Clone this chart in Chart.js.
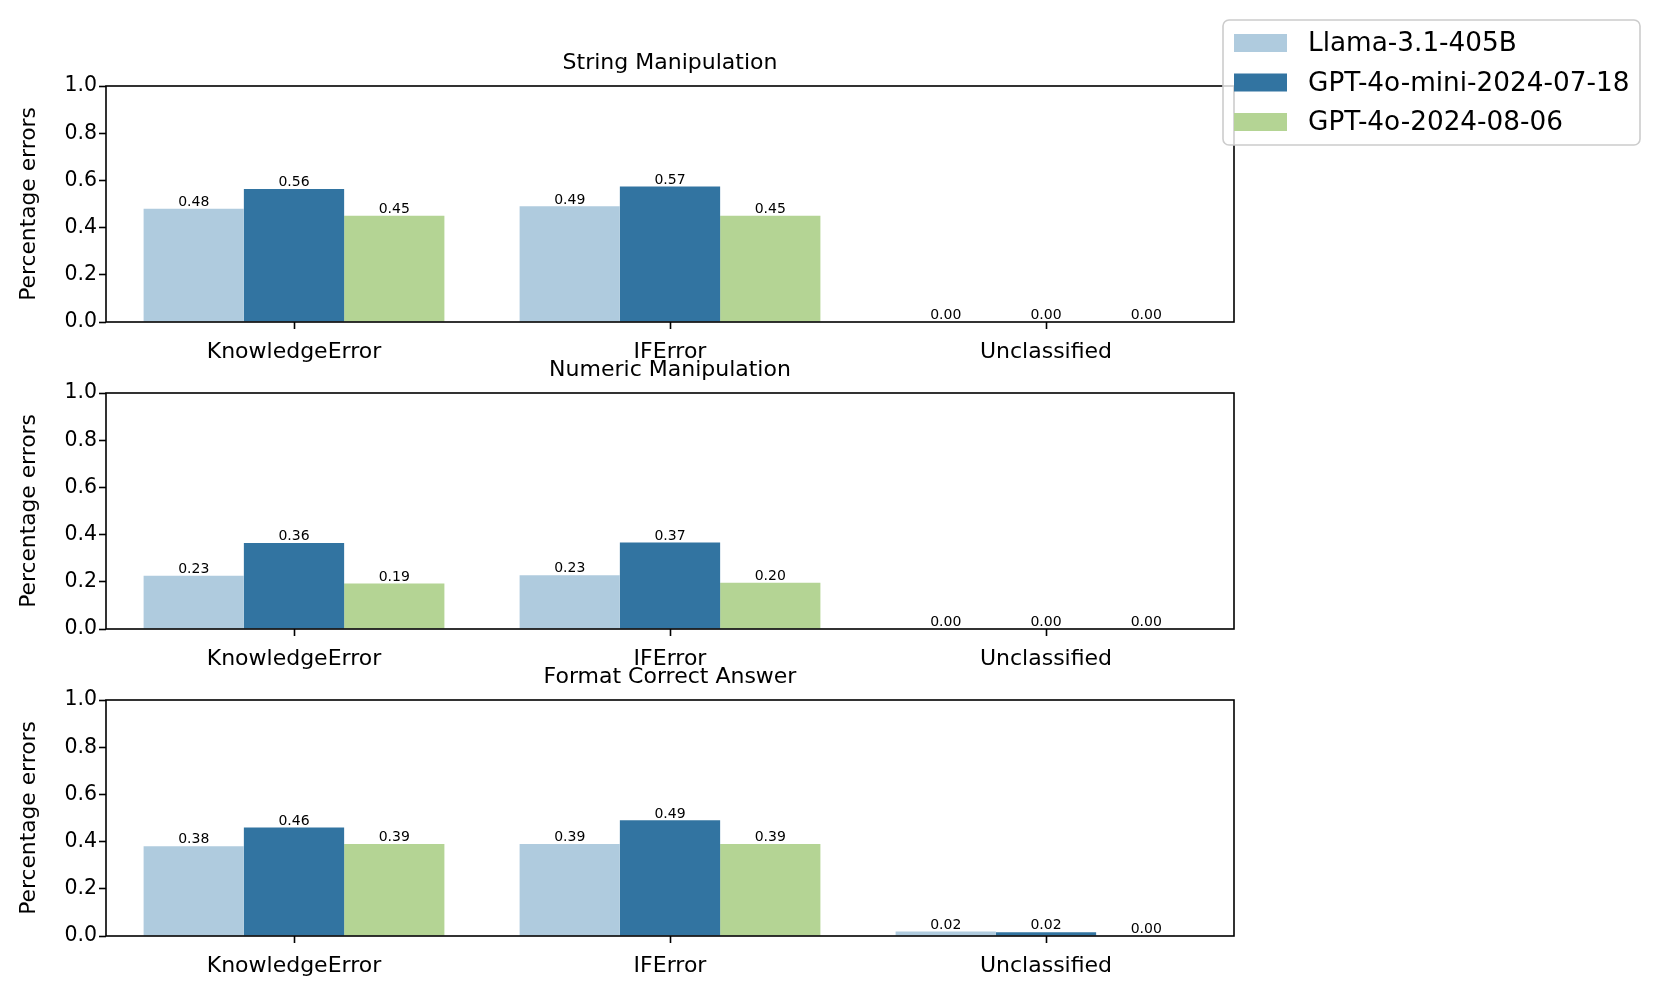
<!DOCTYPE html>
<html>
<head>
<meta charset="utf-8">
<script src="https://cdn.jsdelivr.net/npm/chart.js@4.4.1/dist/chart.umd.min.js"></script>
<style>
html,body{margin:0;padding:0;background:#fff}
#wrap{position:relative;width:1660px;height:997px;background:#fff}
#wrap canvas{position:absolute;left:0;top:0}
</style>
</head>
<body>
<div id="wrap">
<canvas id="c1" width="1660" height="997"></canvas>
<canvas id="c2" width="1660" height="997"></canvas>
<canvas id="c3" width="1660" height="997"></canvas>
</div>
<script>
const categories=["KnowledgeError","IFError","Unclassified"]
const models=["Llama-3.1-405B","GPT-4o-mini-2024-07-18","GPT-4o-2024-08-06"]
const colors=["#afcbde","#3274a1","#b4d494"]
const panelTitles=["String Manipulation","Numeric Manipulation","Format Correct Answer"]
const yTicks=[0,0.2,0.4,0.6,0.8,1.0]

// values per panel, one array per model
const stringLlama=[0.48,0.49,0.00]
const stringMini=[0.564,0.574,0.00]
const stringGpt4o=[0.45,0.45,0.00]

const numericLlama=[0.226,0.228,0.00]
const numericMini=[0.364,0.366,0.00]
const numericGpt4o=[0.193,0.196,0.00]

const formatLlama=[0.38,0.39,0.019]
const formatMini=[0.46,0.49,0.016]
const formatGpt4o=[0.39,0.39,0.00]

const panels=[
[stringLlama,stringMini,stringGpt4o],
[numericLlama,numericMini,numericGpt4o],
[formatLlama,formatMini,formatGpt4o]
]

Chart.defaults.font.family="'DejaVu Sans', sans-serif"
Chart.defaults.color="#000"

// plot area placement (canvas px)
const plotLeft=106
const plotRight=1234
const plotTops=[86,393,700]
const plotH=236
const yAxisW=93
const xAxisH=50

// value labels above bars
const barLabels={
id:"barLabels",
afterDatasetsDraw(chart){
const ctx=chart.ctx
ctx.save()
ctx.font="14px 'DejaVu Sans'"
ctx.fillStyle="#000"
ctx.textAlign="center"
ctx.textBaseline="bottom"
chart.data.datasets.forEach((ds,i)=>{
chart.getDatasetMeta(i).data.forEach((el,j)=>{
ctx.fillText(ds.data[j].toFixed(2),el.x,el.y+0.5)
})
})
ctx.restore()
}
}

// full box around the axes + panel title
const frame={
id:"frame",
afterDraw(chart){
const a=chart.chartArea
const ctx=chart.ctx
ctx.save()
ctx.strokeStyle="#000"
ctx.lineWidth=1.6
ctx.strokeRect(a.left,a.top,a.right-a.left,a.bottom-a.top)
ctx.font="22px 'DejaVu Sans'"
ctx.fillStyle="#000"
ctx.textAlign="center"
ctx.textBaseline="middle"
ctx.fillText(chart.options.plugins.panelTitle,(a.left+a.right)/2,a.top-23)
ctx.restore()
}
}

// matplotlib-like legend box at the top right
const mplLegend={
id:"mplLegend",
afterDraw(chart){
const ctx=chart.ctx
ctx.save()
ctx.beginPath()
ctx.roundRect(1223,20,417,125,6)
ctx.fillStyle="rgba(255,255,255,0.8)"
ctx.fill()
ctx.strokeStyle="#cccccc"
ctx.lineWidth=1.6
ctx.stroke()
ctx.font="26.3px 'DejaVu Sans'"
ctx.textBaseline="middle"
ctx.textAlign="left"
chart.data.datasets.forEach((ds,i)=>{
const cy=43+i*39.5
ctx.fillStyle=ds.backgroundColor
ctx.fillRect(1234,cy-9,53,18)
ctx.fillStyle="#000"
ctx.fillText(ds.label,1308,cy+1.5)
})
ctx.restore()
}
}

function makeChart(id,idx){
const data=panels[idx]
const top=plotTops[idx]
const plugins=[barLabels,frame]
if(idx===0)plugins.push(mplLegend)
return new Chart(document.getElementById(id),{
type:"bar",
data:{
labels:categories,
datasets:models.map((m,i)=>({
label:m,
data:data[i],
backgroundColor:colors[i],
borderWidth:0,
categoryPercentage:0.8,
barPercentage:1.0
}))
},
options:{
responsive:false,
animation:false,
devicePixelRatio:1,
layout:{padding:{
left:plotLeft-yAxisW,
right:1660-plotRight,
top:top,
bottom:997-top-plotH-xAxisH
}},
plugins:{
legend:{display:false},
tooltip:{enabled:false},
panelTitle:panelTitles[idx]
},
scales:{
x:{
afterFit(s){s.height=xAxisH},
grid:{offset:false,drawOnChartArea:false,tickLength:7,tickColor:"#000",tickWidth:1.6},
border:{display:false},
ticks:{padding:10,color:"#000",font:{size:22},maxRotation:0}
},
y:{
min:0,
max:1,
afterFit(s){s.width=yAxisW},
afterBuildTicks(s){s.ticks=yTicks.map(v=>({value:v}))},
grid:{drawOnChartArea:false,tickLength:7,tickColor:"#000",tickWidth:1.6},
border:{display:false},
ticks:{padding:2,color:"#000",font:{size:20.5},callback:v=>v.toFixed(1)},
title:{display:true,text:"Percentage errors",color:"#000",font:{size:21.8},padding:{top:3,bottom:4}}
}
}
},
plugins:plugins
})
}

makeChart("c1",0)
makeChart("c2",1)
makeChart("c3",2)
</script>
</body>
</html>
